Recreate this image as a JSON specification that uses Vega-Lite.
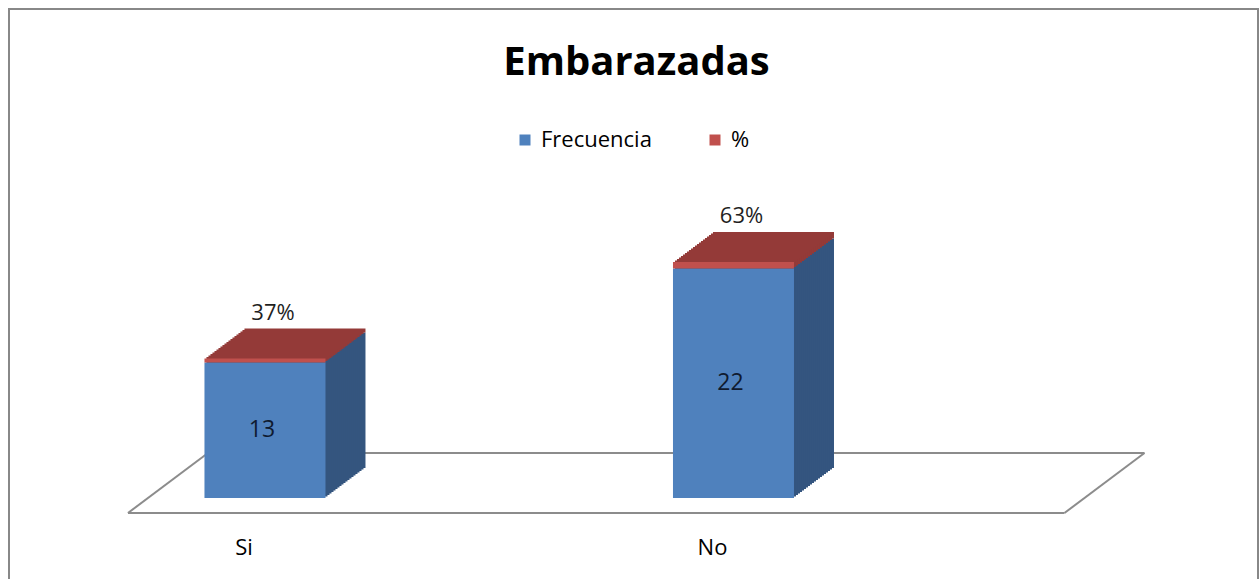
{
  "$schema": "https://vega.github.io/schema/vega-lite/v6.json",
  "width": 1249,
  "height": 574,
  "padding": {"left": 9, "top": 9, "right": 2, "bottom": -4},
  "background": "white",
  "title": {
    "text": "Embarazadas",
    "font": "Open Sans",
    "fontSize": 40,
    "fontWeight": "bold",
    "color": "#000000",
    "anchor": "middle",
    "baseline": "alphabetic",
    "offset": -106,
    "dx": 3
  },
  "data": {
    "values": [
      {"categoria": "Si", "serie": "Frecuencia", "valor": 13},
      {"categoria": "Si", "serie": "%", "valor": 0.37},
      {"categoria": "No", "serie": "Frecuencia", "valor": 22},
      {"categoria": "No", "serie": "%", "valor": 0.63}
    ]
  },
  "transform": [
    {"stack": "valor", "groupby": ["categoria"], "sort": [{"field": "serie", "order": "descending"}], "as": ["y0", "y1"]}
  ],
  "encoding": {
    "x": {
      "field": "categoria",
      "type": "nominal",
      "sort": ["Si", "No"],
      "scale": {"paddingInner": 0.7417, "paddingOuter": 0.7038, "align": 0.2964},
      "axis": {
        "title": null,
        "orient": "bottom",
        "domain": false,
        "ticks": false,
        "tickSize": 0,
        "grid": false,
        "labelPadding": 0,
        "labelOffset": -21,
        "labelAngle": 0,
        "labelFont": "Open Sans",
        "labelFontSize": 22,
        "labelColor": "#000000",
        "labelBaseline": "alphabetic",
        "offset": -29
      }
    }
  },
  "layer": [
    {
      "data": {"values": [{}]},
      "mark": {"type": "rule", "color": "#8c8c8c", "strokeWidth": 2, "xOffset": -137, "x2Offset": 331, "yOffset": 15},
      "encoding": {
        "x": {"datum": "Si"},
        "x2": {"datum": "No"},
        "y": {"datum": 0, "scale": {"domain": [-8.15, 46.88], "nice": false, "zero": false}, "axis": null}
      }
    },
    {
      "data": {"values": [{}]},
      "mark": {"type": "rule", "color": "#8c8c8c", "strokeWidth": 2, "xOffset": -57, "x2Offset": 411, "yOffset": -45},
      "encoding": {
        "x": {"datum": "Si"},
        "x2": {"datum": "No"},
        "y": {"datum": 0, "scale": {"domain": [-8.15, 46.88], "nice": false, "zero": false}, "axis": null}
      }
    },
    {
      "data": {"values": [{}]},
      "mark": {"type": "rule", "color": "#8c8c8c", "strokeWidth": 2, "xOffset": -137, "x2Offset": -57, "yOffset": 15, "y2Offset": -45},
      "encoding": {
        "x": {"datum": "Si"},
        "x2": {"datum": "Si"},
        "y": {"datum": 0, "scale": {"domain": [-8.15, 46.88], "nice": false, "zero": false}, "axis": null},
        "y2": {"datum": 0}
      }
    },
    {
      "data": {"values": [{}]},
      "mark": {"type": "rule", "color": "#8c8c8c", "strokeWidth": 2, "xOffset": 331, "x2Offset": 411, "yOffset": 15, "y2Offset": -45},
      "encoding": {
        "x": {"datum": "No"},
        "x2": {"datum": "No"},
        "y": {"datum": 0, "scale": {"domain": [-8.15, 46.88], "nice": false, "zero": false}, "axis": null},
        "y2": {"datum": 0}
      }
    },
    {"mark": {"type": "bar", "xOffset": 40, "yOffset": -30, "y2Offset": -30}, "encoding": {"y": {"field": "y1", "type": "quantitative", "scale": {"domain": [-8.15, 46.88], "nice": false, "zero": false}, "axis": null}, "y2": {"field": "y0"}, "color": {"condition": {"test": "datum.serie === '%'", "value": "#943a38"}, "value": "#34557f"}}},
    {"mark": {"type": "bar", "xOffset": 38, "yOffset": -28.5, "y2Offset": -28.5}, "encoding": {"y": {"field": "y1", "type": "quantitative", "scale": {"domain": [-8.15, 46.88], "nice": false, "zero": false}, "axis": null}, "y2": {"field": "y0"}, "color": {"condition": {"test": "datum.serie === '%'", "value": "#943a38"}, "value": "#34557f"}}},
    {"mark": {"type": "bar", "xOffset": 36, "yOffset": -27, "y2Offset": -27}, "encoding": {"y": {"field": "y1", "type": "quantitative", "scale": {"domain": [-8.15, 46.88], "nice": false, "zero": false}, "axis": null}, "y2": {"field": "y0"}, "color": {"condition": {"test": "datum.serie === '%'", "value": "#943a38"}, "value": "#34557f"}}},
    {"mark": {"type": "bar", "xOffset": 34, "yOffset": -25.5, "y2Offset": -25.5}, "encoding": {"y": {"field": "y1", "type": "quantitative", "scale": {"domain": [-8.15, 46.88], "nice": false, "zero": false}, "axis": null}, "y2": {"field": "y0"}, "color": {"condition": {"test": "datum.serie === '%'", "value": "#943a38"}, "value": "#34557f"}}},
    {"mark": {"type": "bar", "xOffset": 32, "yOffset": -24, "y2Offset": -24}, "encoding": {"y": {"field": "y1", "type": "quantitative", "scale": {"domain": [-8.15, 46.88], "nice": false, "zero": false}, "axis": null}, "y2": {"field": "y0"}, "color": {"condition": {"test": "datum.serie === '%'", "value": "#943a38"}, "value": "#34557f"}}},
    {"mark": {"type": "bar", "xOffset": 30, "yOffset": -22.5, "y2Offset": -22.5}, "encoding": {"y": {"field": "y1", "type": "quantitative", "scale": {"domain": [-8.15, 46.88], "nice": false, "zero": false}, "axis": null}, "y2": {"field": "y0"}, "color": {"condition": {"test": "datum.serie === '%'", "value": "#943a38"}, "value": "#34557f"}}},
    {"mark": {"type": "bar", "xOffset": 28, "yOffset": -21, "y2Offset": -21}, "encoding": {"y": {"field": "y1", "type": "quantitative", "scale": {"domain": [-8.15, 46.88], "nice": false, "zero": false}, "axis": null}, "y2": {"field": "y0"}, "color": {"condition": {"test": "datum.serie === '%'", "value": "#943a38"}, "value": "#34557f"}}},
    {"mark": {"type": "bar", "xOffset": 26, "yOffset": -19.5, "y2Offset": -19.5}, "encoding": {"y": {"field": "y1", "type": "quantitative", "scale": {"domain": [-8.15, 46.88], "nice": false, "zero": false}, "axis": null}, "y2": {"field": "y0"}, "color": {"condition": {"test": "datum.serie === '%'", "value": "#943a38"}, "value": "#34557f"}}},
    {"mark": {"type": "bar", "xOffset": 24, "yOffset": -18, "y2Offset": -18}, "encoding": {"y": {"field": "y1", "type": "quantitative", "scale": {"domain": [-8.15, 46.88], "nice": false, "zero": false}, "axis": null}, "y2": {"field": "y0"}, "color": {"condition": {"test": "datum.serie === '%'", "value": "#943a38"}, "value": "#34557f"}}},
    {"mark": {"type": "bar", "xOffset": 22, "yOffset": -16.5, "y2Offset": -16.5}, "encoding": {"y": {"field": "y1", "type": "quantitative", "scale": {"domain": [-8.15, 46.88], "nice": false, "zero": false}, "axis": null}, "y2": {"field": "y0"}, "color": {"condition": {"test": "datum.serie === '%'", "value": "#943a38"}, "value": "#34557f"}}},
    {"mark": {"type": "bar", "xOffset": 20, "yOffset": -15, "y2Offset": -15}, "encoding": {"y": {"field": "y1", "type": "quantitative", "scale": {"domain": [-8.15, 46.88], "nice": false, "zero": false}, "axis": null}, "y2": {"field": "y0"}, "color": {"condition": {"test": "datum.serie === '%'", "value": "#943a38"}, "value": "#34557f"}}},
    {"mark": {"type": "bar", "xOffset": 18, "yOffset": -13.5, "y2Offset": -13.5}, "encoding": {"y": {"field": "y1", "type": "quantitative", "scale": {"domain": [-8.15, 46.88], "nice": false, "zero": false}, "axis": null}, "y2": {"field": "y0"}, "color": {"condition": {"test": "datum.serie === '%'", "value": "#943a38"}, "value": "#34557f"}}},
    {"mark": {"type": "bar", "xOffset": 16, "yOffset": -12, "y2Offset": -12}, "encoding": {"y": {"field": "y1", "type": "quantitative", "scale": {"domain": [-8.15, 46.88], "nice": false, "zero": false}, "axis": null}, "y2": {"field": "y0"}, "color": {"condition": {"test": "datum.serie === '%'", "value": "#943a38"}, "value": "#34557f"}}},
    {"mark": {"type": "bar", "xOffset": 14, "yOffset": -10.5, "y2Offset": -10.5}, "encoding": {"y": {"field": "y1", "type": "quantitative", "scale": {"domain": [-8.15, 46.88], "nice": false, "zero": false}, "axis": null}, "y2": {"field": "y0"}, "color": {"condition": {"test": "datum.serie === '%'", "value": "#943a38"}, "value": "#34557f"}}},
    {"mark": {"type": "bar", "xOffset": 12, "yOffset": -9, "y2Offset": -9}, "encoding": {"y": {"field": "y1", "type": "quantitative", "scale": {"domain": [-8.15, 46.88], "nice": false, "zero": false}, "axis": null}, "y2": {"field": "y0"}, "color": {"condition": {"test": "datum.serie === '%'", "value": "#943a38"}, "value": "#34557f"}}},
    {"mark": {"type": "bar", "xOffset": 10, "yOffset": -7.5, "y2Offset": -7.5}, "encoding": {"y": {"field": "y1", "type": "quantitative", "scale": {"domain": [-8.15, 46.88], "nice": false, "zero": false}, "axis": null}, "y2": {"field": "y0"}, "color": {"condition": {"test": "datum.serie === '%'", "value": "#943a38"}, "value": "#34557f"}}},
    {"mark": {"type": "bar", "xOffset": 8, "yOffset": -6, "y2Offset": -6}, "encoding": {"y": {"field": "y1", "type": "quantitative", "scale": {"domain": [-8.15, 46.88], "nice": false, "zero": false}, "axis": null}, "y2": {"field": "y0"}, "color": {"condition": {"test": "datum.serie === '%'", "value": "#943a38"}, "value": "#34557f"}}},
    {"mark": {"type": "bar", "xOffset": 6, "yOffset": -4.5, "y2Offset": -4.5}, "encoding": {"y": {"field": "y1", "type": "quantitative", "scale": {"domain": [-8.15, 46.88], "nice": false, "zero": false}, "axis": null}, "y2": {"field": "y0"}, "color": {"condition": {"test": "datum.serie === '%'", "value": "#943a38"}, "value": "#34557f"}}},
    {"mark": {"type": "bar", "xOffset": 4, "yOffset": -3, "y2Offset": -3}, "encoding": {"y": {"field": "y1", "type": "quantitative", "scale": {"domain": [-8.15, 46.88], "nice": false, "zero": false}, "axis": null}, "y2": {"field": "y0"}, "color": {"condition": {"test": "datum.serie === '%'", "value": "#943a38"}, "value": "#34557f"}}},
    {"mark": {"type": "bar", "xOffset": 2, "yOffset": -1.5, "y2Offset": -1.5}, "encoding": {"y": {"field": "y1", "type": "quantitative", "scale": {"domain": [-8.15, 46.88], "nice": false, "zero": false}, "axis": null}, "y2": {"field": "y0"}, "color": {"condition": {"test": "datum.serie === '%'", "value": "#943a38"}, "value": "#34557f"}}},
    {
      "mark": {"type": "bar"},
      "encoding": {
        "y": {"field": "y1", "type": "quantitative", "scale": {"domain": [-8.15, 46.88], "nice": false, "zero": false}, "axis": null},
        "y2": {"field": "y0"},
        "color": {
          "field": "serie",
          "type": "nominal",
          "scale": {"domain": ["Frecuencia", "%"], "range": ["#4f81bd", "#c0504d"]},
          "legend": {
            "orient": "none",
            "direction": "horizontal",
            "legendX": 505,
            "legendY": 120,
            "title": null,
            "padding": 0,
            "symbolType": "square",
            "symbolSize": 121,
            "symbolStrokeWidth": 0,
            "labelFont": "Open Sans",
            "labelFontSize": 22,
            "labelColor": "#000000",
            "labelOffset": 5,
            "columnPadding": 52
          }
        }
      }
    },
    {
      "transform": [
        {"filter": "datum.serie === 'Frecuencia'"},
        {"fold": ["y0", "y1"], "as": ["extremo", "posicion"]},
        {"aggregate": [{"op": "mean", "field": "posicion", "as": "centro"}], "groupby": ["categoria", "valor"]}
      ],
      "mark": {"type": "text", "font": "Open Sans", "fontSize": 23, "color": "#0f1b30", "dx": -3, "baseline": "middle"},
      "encoding": {
        "y": {"field": "centro", "type": "quantitative", "scale": {"domain": [-8.15, 46.88], "nice": false, "zero": false}, "axis": null},
        "text": {"field": "valor", "type": "quantitative"}
      }
    },
    {
      "transform": [{"filter": "datum.serie === '%'"}],
      "mark": {"type": "text", "font": "Open Sans", "fontSize": 22, "color": "#1f1f1f", "dx": 8, "dy": -46, "baseline": "middle"},
      "encoding": {
        "y": {"field": "y1", "type": "quantitative", "scale": {"domain": [-8.15, 46.88], "nice": false, "zero": false}, "axis": null},
        "text": {"field": "valor", "type": "quantitative", "format": ".0%"}
      }
    }
  ],
  "config": {
    "view": {"stroke": "#888888", "strokeWidth": 2, "fill": "white"},
    "axis": {"grid": false}
  }
}
